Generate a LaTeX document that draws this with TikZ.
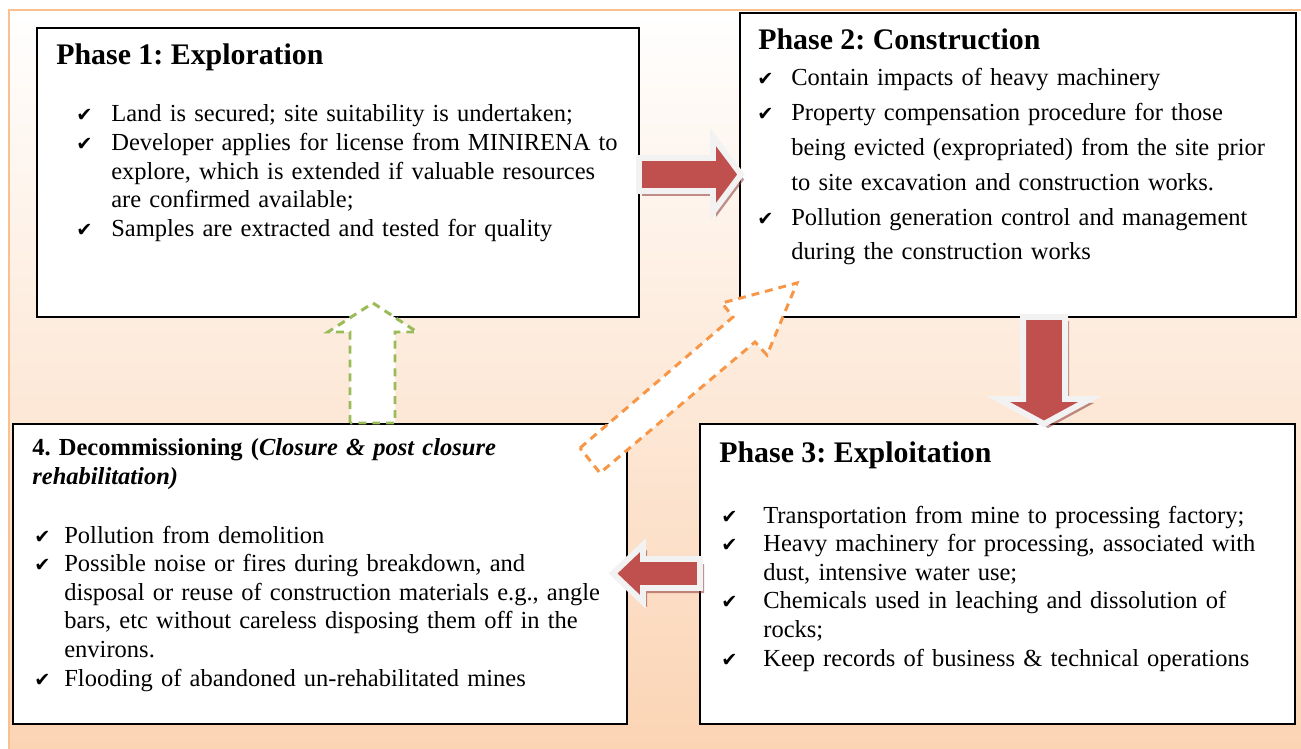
\documentclass[tikz,border=0pt]{standalone}
\usepackage{fontspec}
\setmainfont{Liberation Serif}
\newfontfamily\tickfont{DejaVu Sans}
\usepackage{xcolor}
\definecolor{peach}{HTML}{FBD4B4}
\definecolor{rim}{HTML}{FAC090}
\definecolor{blockred}{HTML}{C0504D}
\definecolor{blockrim}{HTML}{F2F2F2}
\definecolor{shadowred}{HTML}{8C3836}
\definecolor{leafgreen}{HTML}{9BBB59}
\definecolor{tangerine}{HTML}{F79646}

\newlength\pxu
\setlength\pxu{0.02cm}
\newlength\tickgap
% one ticked entry, wrapped lines hang under the text
\newcommand\tickitem[1]{\noindent\hangindent=\tickgap\hangafter=1%
	\makebox[\tickgap][l]{\tickfont\fontsize{11pt}{11pt}\selectfont ✔}#1\par}
\frenchspacing

\begin{document}
\begin{tikzpicture}[x=0.02cm,y=-0.02cm,
		phasebox/.style={draw=black,fill=white,line width=1.1pt,inner sep=0pt,anchor=north west},
		phasetitle/.style={font=\fontsize{17pt}{20pt}\selectfont\bfseries,inner sep=0pt,anchor=base west},
		ticklist/.style={font=\fontsize{13.95pt}{16.3pt}\selectfont,inner sep=0pt,
			anchor=base west,align=left,text width=600\pxu},
		blockarrow/.style={fill=blockred,draw=blockrim,line width=3.4pt,line join=miter},
		blockshadow/.style={fill=shadowred,opacity=0.55},
		hollowarrow/.style={fill=white,line width=1.7pt,dash pattern=on 4.5pt off 3.4pt}
		]
		%% block arrow outlines
		\def\toconstruction{(639,158) -- (713,158) -- (713,137) -- (741,174.5) -- (713,212) -- (713,191) -- (639,191) -- cycle}
		\def\toexploitation{(1023,317) -- (1065,317) -- (1065,399) -- (1090,399) -- (1044,424) -- (998,399) -- (1023,399) -- cycle}
		\def\todecommission{(700,559) -- (643,559) -- (643,545) -- (613,573.5) -- (643,602) -- (643,588) -- (700,588) -- cycle}
		%
		\useasboundingbox (0,0) rectangle (1301,749);
		\shade[top color=white,bottom color=peach] (9,10) rectangle (1301,749);
		\draw[rim,line width=1.4pt] (9,749) -- (9,10) -- (1301,10);
		
		%% the four phases
		\node[phasebox,minimum width=602\pxu,minimum height=289\pxu] (phase1) at (36,27) {};
		\node[phasebox,minimum width=556\pxu,minimum height=304\pxu] (phase2) at (739,12) {};
		\node[phasebox,minimum width=595\pxu,minimum height=300\pxu] (phase3) at (699,423) {};
		\node[phasebox,minimum width=614\pxu,minimum height=300\pxu] (phase4) at (12,423) {};
		
		\node[phasetitle] (title1) at (56,65) {Phase 1: Exploration};
		\node[ticklist] (list1) at (76,122) {\setlength\tickgap{35\pxu}%
			\tickitem{Land is secured; site suitability is undertaken;}
			\tickitem{Developer applies for license from MINIRENA to\newline explore, which is extended if valuable resources\newline are confirmed available;}
			\tickitem{Samples are extracted and tested for quality}};
		
		\node[phasetitle] (title2) at (758,50) {Phase 2: Construction};
		\node[ticklist,font=\fontsize{13.95pt}{19.8pt}\selectfont] (list2) at (757,86) {\setlength\tickgap{34\pxu}%
			\tickitem{Contain impacts of heavy machinery}
			\tickitem{Property compensation procedure for those\newline being evicted (expropriated) from the site prior\newline to site excavation and construction works.}
			\tickitem{Pollution generation control and management\newline during the construction works}};
		
		\node[phasetitle] (title3) at (719,462) {Phase 3: Exploitation};
		\node[ticklist] (list3) at (721,523) {\setlength\tickgap{42\pxu}%
			\tickitem{Transportation from mine to processing factory;}
			\tickitem{Heavy machinery for processing, associated with\newline dust, intensive water use;}
			\tickitem{Chemicals used in leaching and dissolution of\newline rocks;}
			\tickitem{Keep records of business \& technical operations}};
		
		\node[ticklist,font=\fontsize{13.95pt}{16.4pt}\selectfont\bfseries] (title4) at (32,456)
			{4. Decommissioning (\textit{Closure \& post closure}\newline \textit{rehabilitation)}};
		\node[ticklist] (list4) at (34,543) {\setlength\tickgap{30\pxu}%
			\tickitem{Pollution from demolition}
			\tickitem{Possible noise or fires during breakdown, and\newline disposal or reuse of construction materials e.g., angle\newline bars, etc without careless disposing them off in the\newline environs.}
			\tickitem{Flooding of abandoned un-rehabilitated mines}};
		
		%% arrows between phases
		\fill[blockshadow,shift={(3,5)}] \toconstruction;
		\draw[blockarrow] \toconstruction;
		\fill[blockshadow,shift={(4,4)}] \toexploitation;
		\draw[blockarrow] \toexploitation;
		\fill[blockshadow,shift={(4,5)}] \todecommission;
		\draw[blockarrow] \todecommission;
		
		\draw[hollowarrow,draw=leafgreen] (350,423) -- (350,332) -- (328,332) -- (373,303)
			-- (417,332) -- (395,332) -- (395,423) -- cycle;
		\draw[hollowarrow,draw=tangerine] (580,448) -- (733,317) -- (722,303) -- (797,283)
			-- (767,355) -- (755,342) -- (600,473) -- cycle;
	\end{tikzpicture}
\end{document}
